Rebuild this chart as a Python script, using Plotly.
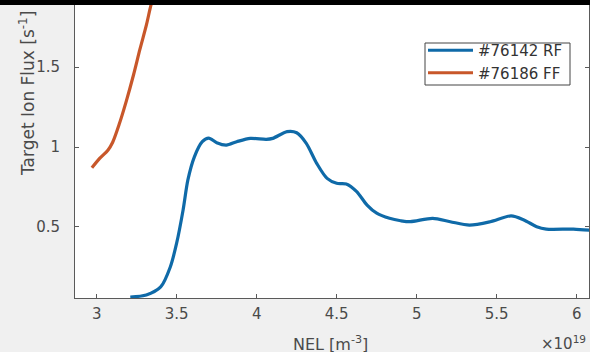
import plotly.graph_objects as go

# Data (x in units of 1e19 m^-3)
rf_x = [3.21, 3.31, 3.40, 3.46, 3.50, 3.54, 3.57, 3.61, 3.66, 3.70, 3.75, 3.81, 3.875,
        3.96, 4.06, 4.10, 4.19, 4.25, 4.31, 4.375, 4.44, 4.50, 4.56, 4.625, 4.69, 4.75,
        4.83, 4.90, 4.96, 5.10, 5.21, 5.33, 5.46, 5.59, 5.67, 5.75, 5.81, 5.98, 6.08]
rf_y = [0.062, 0.075, 0.125, 0.25, 0.40, 0.606, 0.794, 0.937, 1.033, 1.056, 1.027, 1.012, 1.033,
        1.054, 1.048, 1.054, 1.096, 1.089, 1.023, 0.898, 0.804, 0.773, 0.769, 0.721, 0.637, 0.586,
        0.554, 0.539, 0.533, 0.554, 0.533, 0.512, 0.533, 0.569, 0.544, 0.502, 0.487, 0.487, 0.48]

ff_x = [2.97, 3.02, 3.07, 3.10, 3.14, 3.186, 3.23, 3.27, 3.31, 3.34, 3.38]
ff_y = [0.87, 0.93, 0.98, 1.03, 1.14, 1.29, 1.45, 1.61, 1.76, 1.89, 2.02]

x_ticks = [3, 3.5, 4, 4.5, 5, 5.5, 6]
x_tick_labels = ["3", "3.5", "4", "4.5", "5", "5.5", "6"]
y_ticks = [0.5, 1, 1.5]
y_tick_labels = ["0.5", "1", "1.5"]

FONT = "DejaVu Sans"
AX = "#5a5a5a"
TXT = "#4a4a4a"

W, H = 590, 352
L, R, T, B = 75, 1, 0, 54
PW, PH = W - L - R, H - T - B


def px(xp):
    return (xp - L) / PW


def py(yp):
    return (H - B - yp) / PH


fig = go.Figure()
fig.add_trace(go.Scatter(x=rf_x, y=rf_y, mode="lines", name="#76142 RF",
                         line=dict(color="#0f6aa8", width=3.2, shape="spline", smoothing=0.8)))
fig.add_trace(go.Scatter(x=ff_x, y=ff_y, mode="lines", name="#76186 FF",
                         line=dict(color="#c8572a", width=3.2, shape="spline", smoothing=0.8)))

fig.update_layout(
    width=W, height=H,
    margin=dict(l=L, r=R, t=T, b=B),
    paper_bgcolor="#f0f0f0", plot_bgcolor="white",
    font=dict(family=FONT, size=14, color=TXT),
    showlegend=True,
    legend=dict(x=px(423), y=py(34), xanchor="left", yanchor="top",
                bgcolor="rgba(0,0,0,0)", borderwidth=0,
                font=dict(family=FONT, size=15, color="#333"),
                tracegroupgap=0, itemwidth=45),
    xaxis=dict(range=[2.8644, 6.077], tickvals=x_ticks, ticktext=x_tick_labels,
               ticks="inside", ticklen=4, tickcolor=AX, showline=True, linecolor=AX,
               linewidth=1, mirror="ticks", showgrid=False, zeroline=False,
               tickfont=dict(family=FONT, size=15, color=TXT), ticklabelstandoff=2),
    yaxis=dict(range=[0.056, 1.919], tickvals=y_ticks, ticktext=y_tick_labels,
               ticks="inside", ticklen=4, tickcolor=AX, showline=True, linecolor=AX,
               linewidth=1, mirror="ticks", showgrid=False, zeroline=False,
               tickfont=dict(family=FONT, size=15, color=TXT), ticklabelstandoff=11),
    annotations=[
        dict(text="Target Ion Flux [s<sup>-1</sup>]", textangle=-90, xref="paper", yref="paper",
             x=px(27), y=py(94), xanchor="center", yanchor="middle", showarrow=False,
             font=dict(family=FONT, size=17, color=TXT)),
        dict(text="NEL [m<sup>-3</sup>]", xref="paper", yref="paper",
             x=px(330), y=py(343), xanchor="center", yanchor="middle", showarrow=False,
             font=dict(family=FONT, size=16, color=TXT)),
        dict(text="×10<sup>19</sup>", xref="paper", yref="paper",
             x=px(539), y=py(343), xanchor="left", yanchor="middle", showarrow=False,
             font=dict(family=FONT, size=15, color=TXT)),
    ],
    shapes=[
        dict(type="rect", xref="paper", yref="paper", x0=px(425), x1=px(570),
             y0=py(85), y1=py(43), fillcolor="white", line=dict(color="#444", width=1),
             layer="above"),
        dict(type="rect", xref="paper", yref="paper", x0=-0.2, x1=1.01,
             y0=py(5), y1=1.05, fillcolor="black", line=dict(width=0), layer="above"),
    ],
)

fig.write_html("out.html", config={"displayModeBar": False},
               post_script="document.body.style.margin='0';document.body.style.overflow='hidden';")
